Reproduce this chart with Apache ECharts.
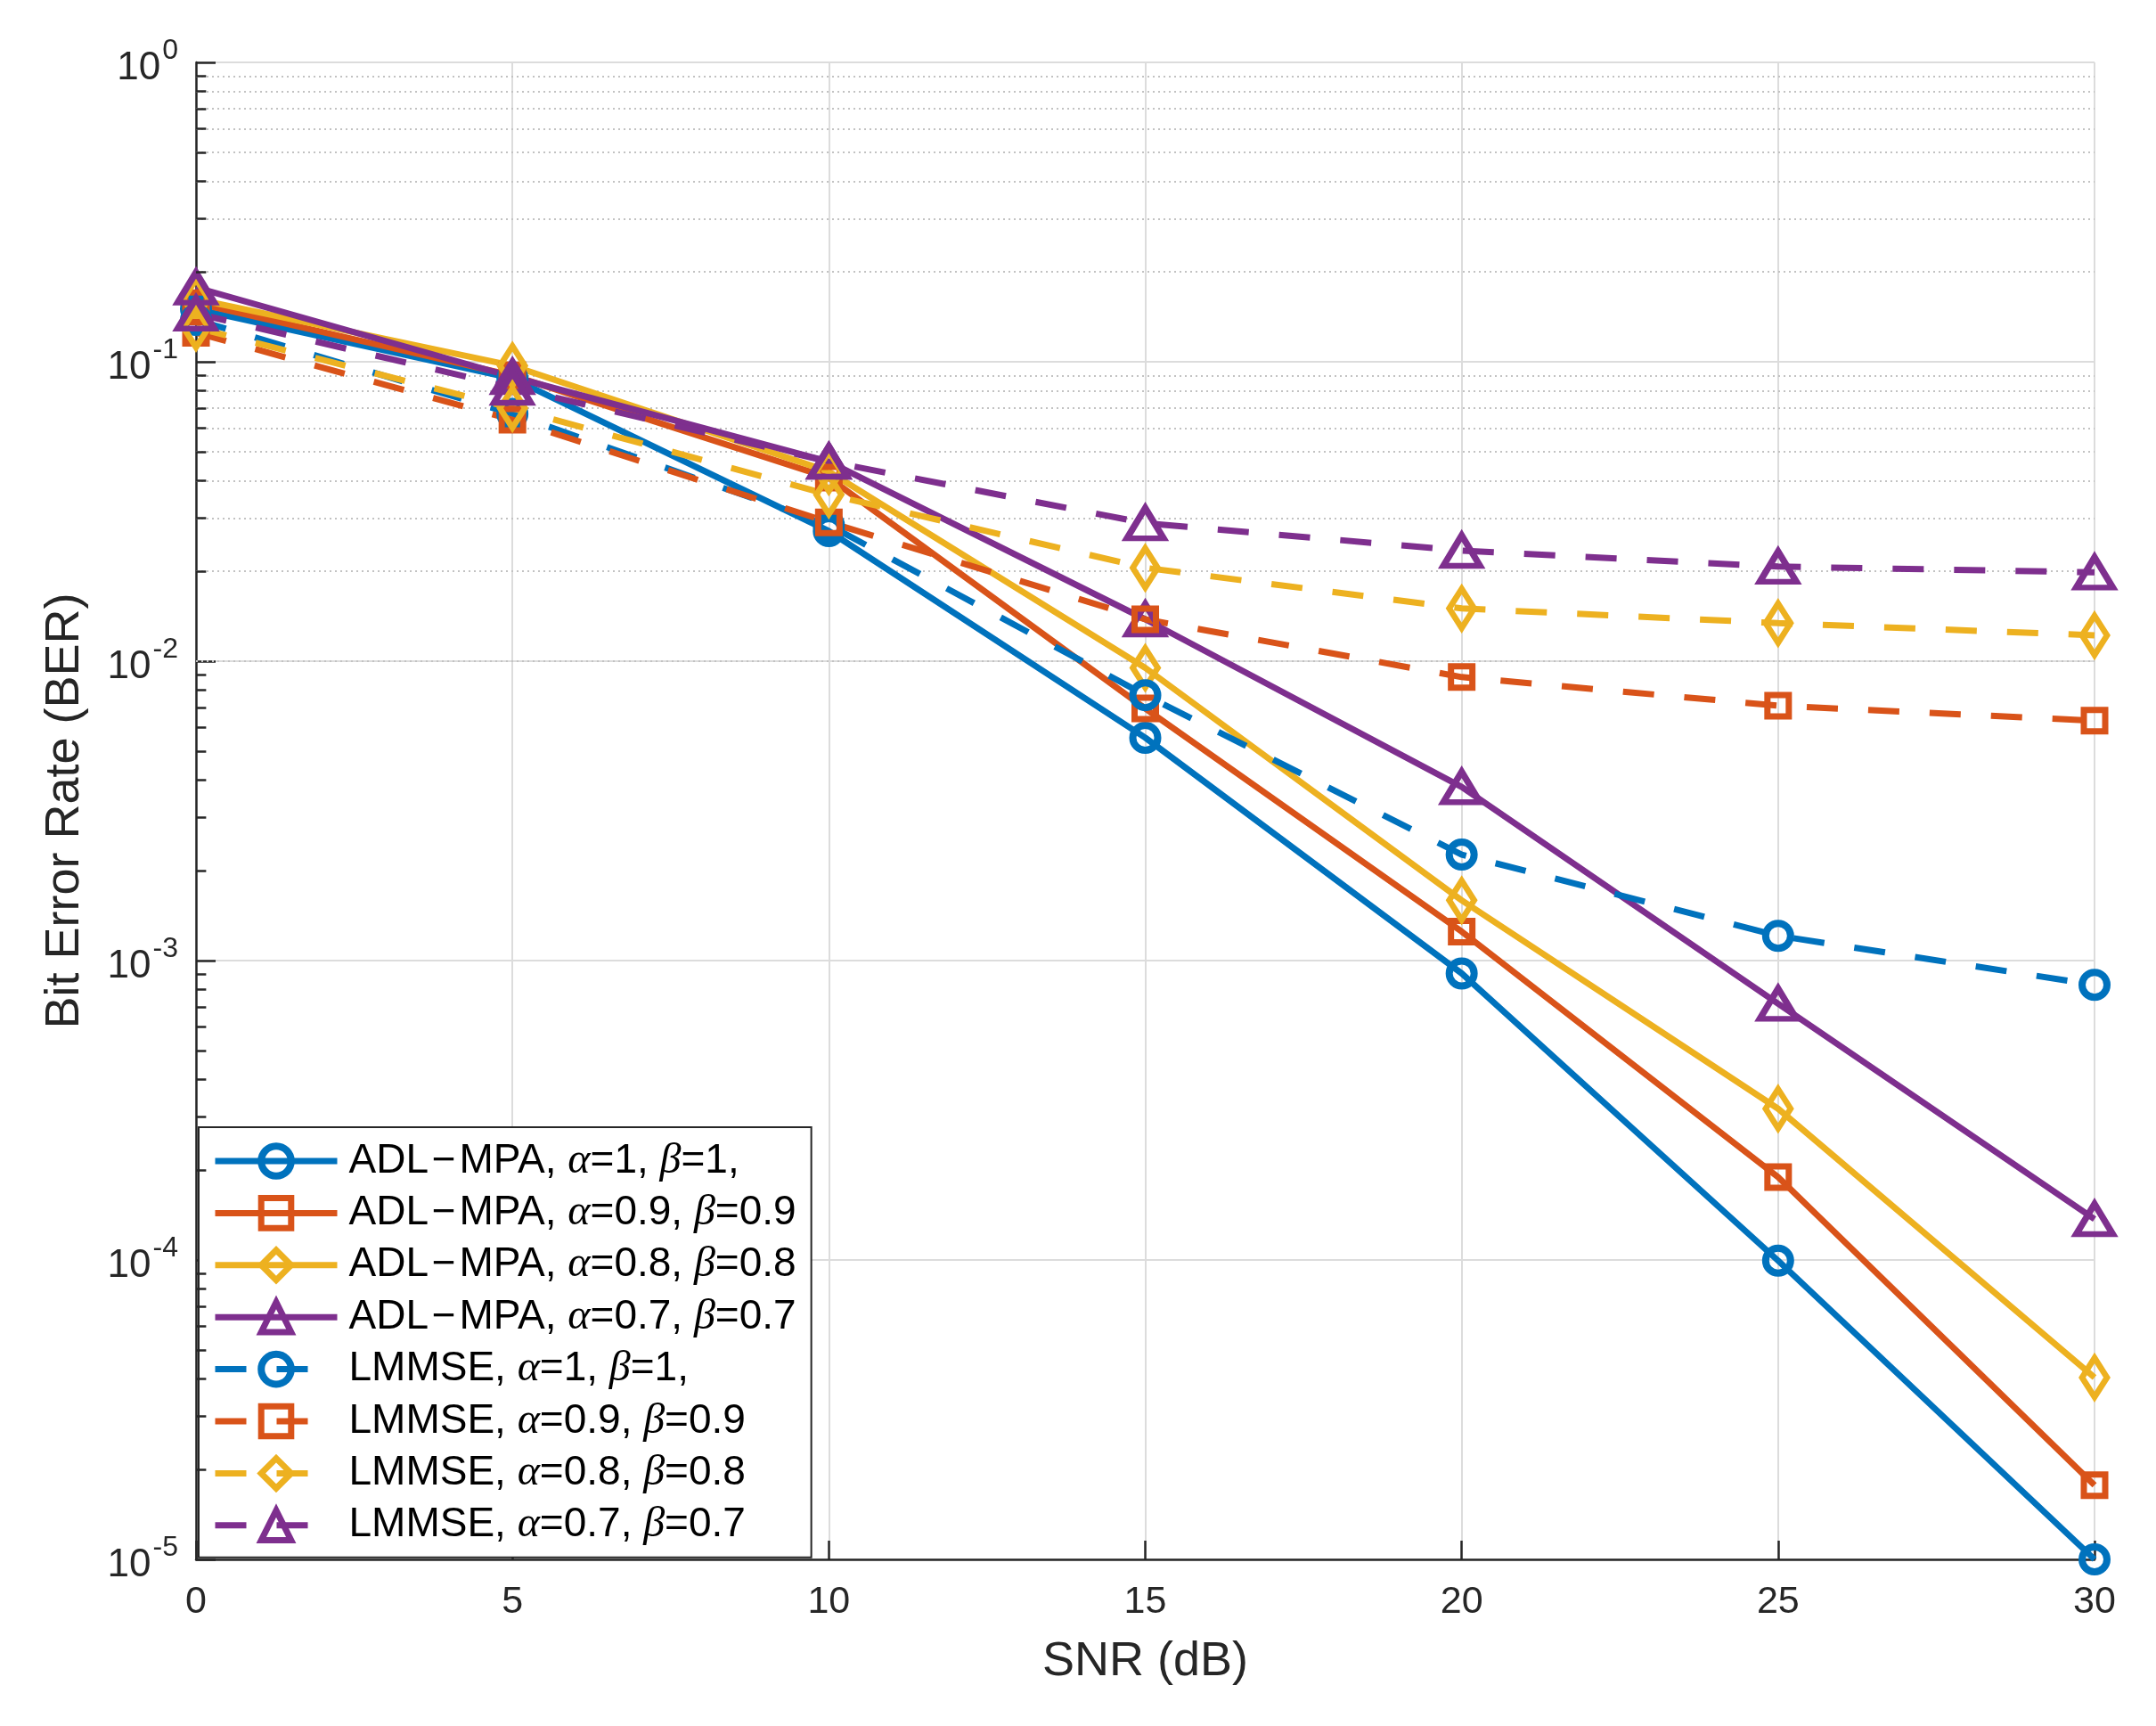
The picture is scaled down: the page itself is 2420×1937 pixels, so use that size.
<!DOCTYPE html>
<html>
<head>
<meta charset="utf-8">
<script src="https://cdn.jsdelivr.net/npm/echarts@6/dist/echarts.min.js"></script>
<style>
html,body{margin:0;padding:0;background:#fff;}
#chart{width:2420px;height:1937px;}
</style>
</head>
<body>
<div id="chart"></div>
<script>
// ---- data ----
const snr = [0, 5, 10, 15, 20, 25, 30];
const adlA1   = [0.150, 0.088, 0.0272, 0.00555, 0.000906, 0.0000995, 0.0000100];
const adlA09  = [0.157, 0.090, 0.0410, 0.00695, 0.00125, 0.000189, 0.0000177];
const adlA08  = [0.162, 0.097, 0.0430, 0.0095, 0.00159, 0.000320, 0.0000405];
const adlA07  = [0.177, 0.089, 0.0464, 0.0138, 0.00380, 0.000718, 0.000137];
const lmA1    = [0.138, 0.067, 0.0285, 0.0077, 0.00226, 0.00121, 0.00083];
const lmA09   = [0.125, 0.064, 0.0291, 0.0138, 0.00885, 0.0071, 0.00633];
const lmA08   = [0.130, 0.070, 0.0360, 0.0205, 0.0150, 0.0134, 0.0122];
const lmA07   = [0.145, 0.082, 0.0464, 0.0289, 0.0234, 0.0207, 0.0198];
const methods = ['ADL\u200A\u2212\u200AMPA', 'LMMSE'];
const params  = ['1', '0.9', '0.8', '0.7'];
const trailing = [',', '', '', ''];
const xTicks = [0, 5, 10, 15, 20, 25, 30];
const yTickExps = [-5, -4, -3, -2, -1, 0];
const minorMultipliers = [2, 3, 4, 5, 6, 7, 8, 9];

const colors = ['#0072BD', '#D95319', '#EDB120', '#7E2F8E'];
const symbols = ['circle', 'rect', 'diamond', 'triangle'];
const symSizes = [28, 24, [28, 44], [41, 34]];
const symBorder = [8, 7, 7, 7];

const seriesData = [adlA1, adlA09, adlA08, adlA07, lmA1, lmA09, lmA08, lmA07];
const names = [];
for (let m = 0; m < 2; m++) for (let p = 0; p < 4; p++)
  names.push(methods[m] + ', α=' + params[p] + ', β=' + params[p] + trailing[p]);

function legendFmt(name) {
  const idx = names.indexOf(name);
  const m = Math.floor(idx / 4), p = idx % 4;
  return '{t|' + methods[m] + ', }{g|α}{t|=' + params[p] + ', }{g|β}{t|=' + params[p] + trailing[p] + '}';
}

const series = [];
seriesData.forEach((d, i) => {
  const c = i % 4;
  const dashed = i >= 4;
  series.push({
    name: names[i],
    type: 'line',
    data: snr.map((x, k) => [x, d[k]]),
    symbol: symbols[c],
    symbolSize: symSizes[c],
    showAllSymbol: true,
    clip: false,
    animation: false,
    z: 3,
    lineStyle: { color: colors[c], width: 7, type: dashed ? [35, 34] : 'solid' },
    itemStyle: { color: 'none', borderColor: colors[c], borderWidth: symBorder[c] },
    emphasis: { disabled: true }
  });
});

// minor grid (dotted) and minor ticks on log axis
const minorVals = [];
yTickExps.slice(0, -1).forEach(e => minorMultipliers.forEach(k => minorVals.push(k * Math.pow(10, e))));
series.push({
  type: 'line', data: [], silent: true, animation: false, z: 1,
  markLine: {
    silent: true, symbol: 'none', animation: false, z: 1,
    label: { show: false },
    lineStyle: { color: '#c2c2c2', width: 2, type: [2, 4] },
    data: minorVals.map(v => ({ yAxis: v }))
  }
});
series.push({
  type: 'line', data: [], silent: true, animation: false, z: 4,
  markLine: {
    silent: true, symbol: 'none', animation: false, z: 4,
    label: { show: false },
    lineStyle: { color: '#262626', width: 2.5, type: 'solid' },
    data: minorVals.map(v => [{ coord: [0, v] }, { coord: [0.16, v] }])
  }
});

const legendData = names.map((n, i) => ({
  name: n,
  itemStyle: { color: 'none', borderColor: colors[i % 4], borderWidth: symBorder[i % 4] },
  lineStyle: { color: colors[i % 4], width: 7, type: i >= 4 ? [35, 34] : 'solid' }
}));

const chart = echarts.init(document.getElementById('chart'), null, { renderer: 'canvas' });
chart.setOption({
  backgroundColor: '#ffffff',
  animation: false,
  textStyle: { fontFamily: 'Liberation Sans, Arial, sans-serif', color: '#262626' },
  grid: { left: 220, right: 69, top: 70, bottom: 187, containLabel: false },
  xAxis: {
    type: 'value', min: 0, max: 30, interval: 5,
    name: 'SNR (dB)', nameLocation: 'middle', nameGap: 88,
    nameTextStyle: { fontSize: 54, color: '#262626', fontFamily: 'Liberation Sans' },
    axisLine: { show: true, onZero: false, lineStyle: { color: '#262626', width: 2.5 } },
    axisTick: { show: true, inside: true, length: 21, lineStyle: { color: '#262626', width: 2.5 } },
    axisLabel: { fontSize: 43, color: '#262626', margin: 27, fontFamily: 'Liberation Sans',
      formatter: v => (xTicks.indexOf(v) >= 0 ? String(v) : '') },
    splitLine: { show: true, lineStyle: { color: '#dcdcdc', width: 2 } }
  },
  yAxis: {
    type: 'log', logBase: 10, min: 1e-5, max: 1,
    name: 'Bit Error Rate (BER)', nameLocation: 'middle', nameGap: 120,
    nameTextStyle: { fontSize: 54, color: '#262626', fontFamily: 'Liberation Sans' },
    axisLine: { show: true, lineStyle: { color: '#262626', width: 2.5 } },
    axisTick: { show: true, inside: true, length: 22, lineStyle: { color: '#262626', width: 2.5 } },
    axisLabel: {
      margin: 20,
      formatter: v => {
        const e = Math.round(Math.log10(v));
        return '{b|10}{s|' + e + '}';
      },
      rich: {
        b: { fontSize: 44, padding: [13, 0, 0, 0], verticalAlign: 'bottom', color: '#262626', fontFamily: 'Liberation Sans' },
        s: { fontSize: 32, padding: [0, 0, 0, 2], verticalAlign: 'top', color: '#262626', fontFamily: 'Liberation Sans' }
      }
    },
    splitLine: { show: true, lineStyle: { color: '#dcdcdc', width: 2 } }
  },
  legend: {
    data: legendData,
    orient: 'vertical',
    left: 223, top: 1265,
    padding: [14, 17, 12, 15],
    itemWidth: 137, itemHeight: 42, itemGap: 10.4,
    backgroundColor: '#ffffff',
    borderColor: '#262626', borderWidth: 2,
    selectedMode: false,
    formatter: legendFmt,
    textStyle: {
      color: '#000000', fontSize: 46, lineHeight: 42, padding: [0, 0, 0, 8],
      rich: {
        t: { fontSize: 46, lineHeight: 42, fontFamily: 'Liberation Sans', color: '#000' },
        g: { fontSize: 48, lineHeight: 42, fontFamily: 'Liberation Serif', fontStyle: 'italic', color: '#000' }
      }
    }
  },
  series: series
});
</script>
</body>
</html>
